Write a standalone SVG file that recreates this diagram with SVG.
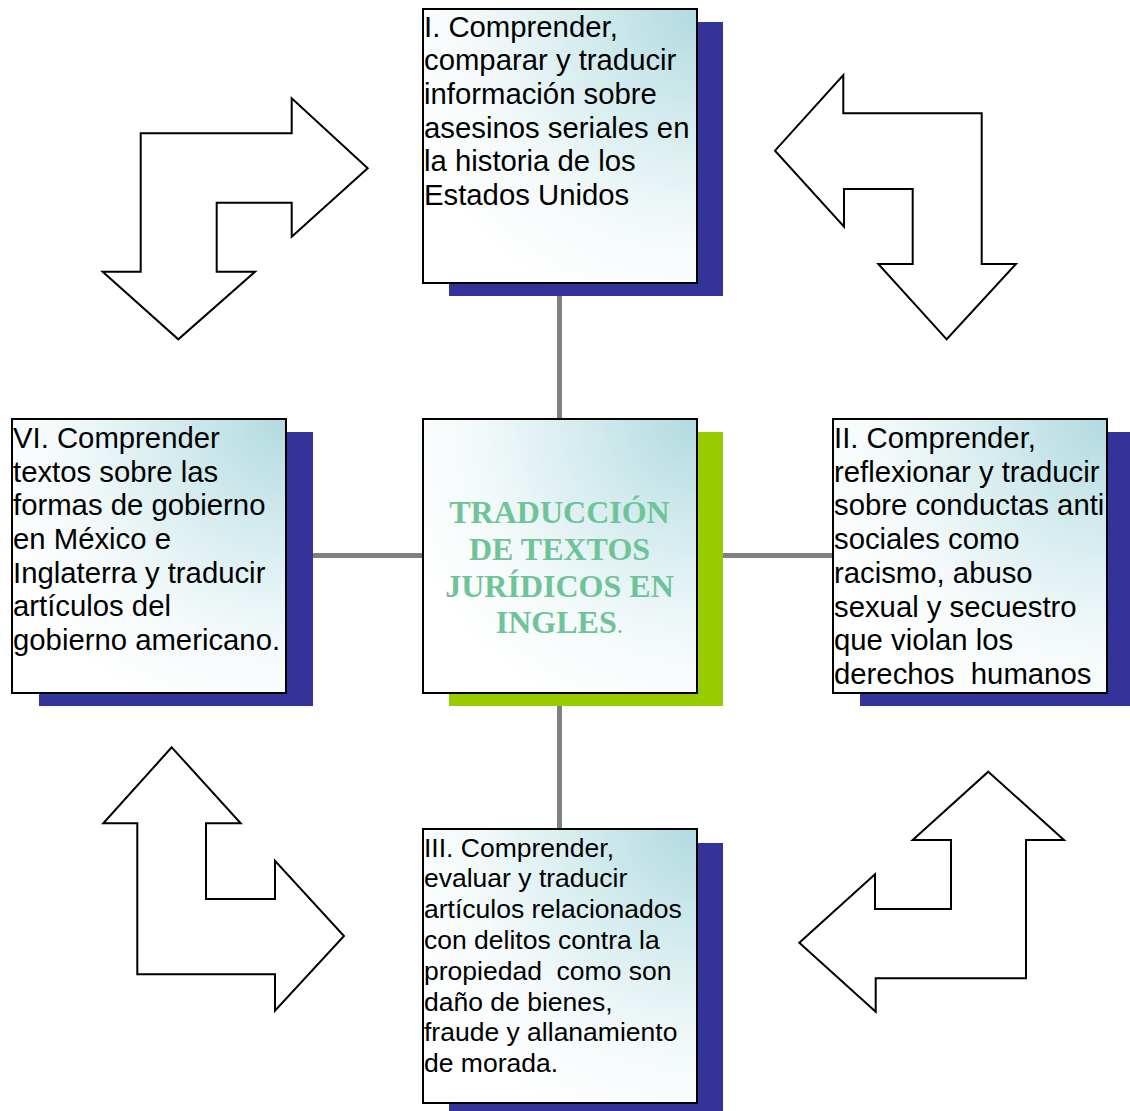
<svg xmlns="http://www.w3.org/2000/svg" width="1130" height="1111" viewBox="0 0 1130 1111">
<defs>
<radialGradient id="g" cx="1" cy="0" r="1.15" fx="1" fy="0">
<stop offset="0" stop-color="#b2dadf"/>
<stop offset="0.35" stop-color="#d3ebee"/>
<stop offset="0.7" stop-color="#f3f9fa"/>
<stop offset="1" stop-color="#ffffff"/>
</radialGradient>
<style>
.box{fill:url(#g);stroke:#000;stroke-width:2}
.sh{fill:#333399}
.arr{fill:#fff;stroke:#000;stroke-width:2;stroke-linejoin:miter}
.t{font-family:"Liberation Sans",Arial,sans-serif;font-size:29.3px;fill:#000;white-space:pre}
.ts{font-family:"Liberation Sans",Arial,sans-serif;font-size:26.5px;fill:#000;white-space:pre}
.c{font-family:"Liberation Serif","Times New Roman",serif;font-size:32px;font-weight:bold;fill:#6fc398;text-anchor:middle}
.con{stroke:#808080;stroke-width:5;fill:none}
</style>
</defs>
<rect width="1130" height="1111" fill="#fff"/>
<g id="connectors">
<line class="con" x1="559.5" y1="282" x2="559.5" y2="419"/>
<line class="con" x1="559.5" y1="692" x2="559.5" y2="829"/>
<line class="con" x1="286" y1="555.5" x2="423" y2="555.5"/>
<line class="con" x1="696" y1="555.5" x2="832" y2="555.5"/>
</g>
<g id="arrow-tl"><path class="arr" d="M140.7,133.3 L291.7,133.3 L291.7,98.3 L367.7,168.3 L291.7,236.7 L291.7,202.7 L216.7,202.7 L216.7,271.7 L255,271.7 L178.3,339.3 L102.7,271.7 L140.7,271.7 Z"/></g>
<g id="arrow-tr"><path class="arr" d="M843.3,75 L843.3,113.3 L981.7,113.3 L981.7,264 L1016,264 L946.7,339.3 L878.3,264 L912.7,264 L912.7,189 L844,189 L844,226.7 L775,150.7 Z"/></g>
<g id="arrow-bl"><path class="arr" d="M171.7,747.3 L240.7,823.3 L206,823.3 L206,899 L275,899 L275,860.7 L344,936 L275,1010.7 L275,974.3 L137.3,974.3 L137.3,823.3 L103.3,823.3 Z"/></g>
<g id="arrow-br"><path class="arr" d="M988.3,771.7 L1064,840 L1026,840 L1026,978.3 L875.7,978.3 L875.7,1011.7 L799.3,942.7 L875,874.3 L875,909 L951,909 L951,840 L912.7,840 Z"/></g>
<g id="node-I">
<rect class="sh" x="449" y="22" width="274" height="274"/>
<rect class="box" x="423" y="9" width="274" height="274"/>
<text class="t"><tspan x="424" y="36.5">I. Comprender,</tspan><tspan x="424" y="70.2">comparar y traducir</tspan><tspan x="424" y="103.9">información sobre</tspan><tspan x="424" y="137.6">asesinos seriales en</tspan><tspan x="424" y="171.3">la historia de los</tspan><tspan x="424" y="205">Estados Unidos</tspan></text>
</g>
<g id="node-center">
<rect x="449" y="432" width="274" height="274" fill="#99cc00"/>
<rect class="box" x="423" y="419" width="274" height="274"/>
<text class="c"><tspan x="559.5" y="523.3">TRADUCCIÓN</tspan><tspan x="559.5" y="560">DE TEXTOS</tspan><tspan x="559.5" y="596.7">JURÍDICOS EN</tspan><tspan x="559.5" y="633.3">INGLES<tspan font-weight="normal" font-size="26px">.</tspan></tspan></text>
</g>
<g id="node-VI">
<rect class="sh" x="39" y="432" width="274" height="274"/>
<rect class="box" x="12" y="419" width="274" height="274"/>
<text class="t"><tspan x="13" y="447.8">VI. Comprender</tspan><tspan x="13" y="481.5">textos sobre las</tspan><tspan x="13" y="515.2">formas de gobierno</tspan><tspan x="13" y="548.9">en México e</tspan><tspan x="13" y="582.6">Inglaterra y traducir</tspan><tspan x="13" y="616.3">artículos del</tspan><tspan x="13" y="650">gobierno americano.</tspan></text>
</g>
<g id="node-II">
<rect class="sh" x="860" y="432" width="274" height="274"/>
<rect class="box" x="833" y="419" width="274" height="274"/>
<text class="t"><tspan x="834" y="448">II. Comprender,</tspan><tspan x="834" y="481.7">reflexionar y traducir</tspan><tspan x="834" y="515.4">sobre conductas anti</tspan><tspan x="834" y="549.1">sociales como</tspan><tspan x="834" y="582.8">racismo, abuso</tspan><tspan x="834" y="616.5">sexual y secuestro</tspan><tspan x="834" y="650.2">que violan los</tspan><tspan x="834" y="683.9">derechos  humanos</tspan></text>
</g>
<g id="node-III">
<rect class="sh" x="449" y="843" width="274" height="274"/>
<rect class="box" x="423" y="829" width="274" height="274"/>
<text class="ts"><tspan x="424" y="856.5">III. Comprender,</tspan><tspan x="424" y="887.3">evaluar y traducir</tspan><tspan x="424" y="918.1">artículos relacionados</tspan><tspan x="424" y="948.9">con delitos contra la</tspan><tspan x="424" y="979.7">propiedad  como son</tspan><tspan x="424" y="1010.5">daño de bienes,</tspan><tspan x="424" y="1041.3">fraude y allanamiento</tspan><tspan x="424" y="1072.1">de morada.</tspan></text>
</g>
</svg>
